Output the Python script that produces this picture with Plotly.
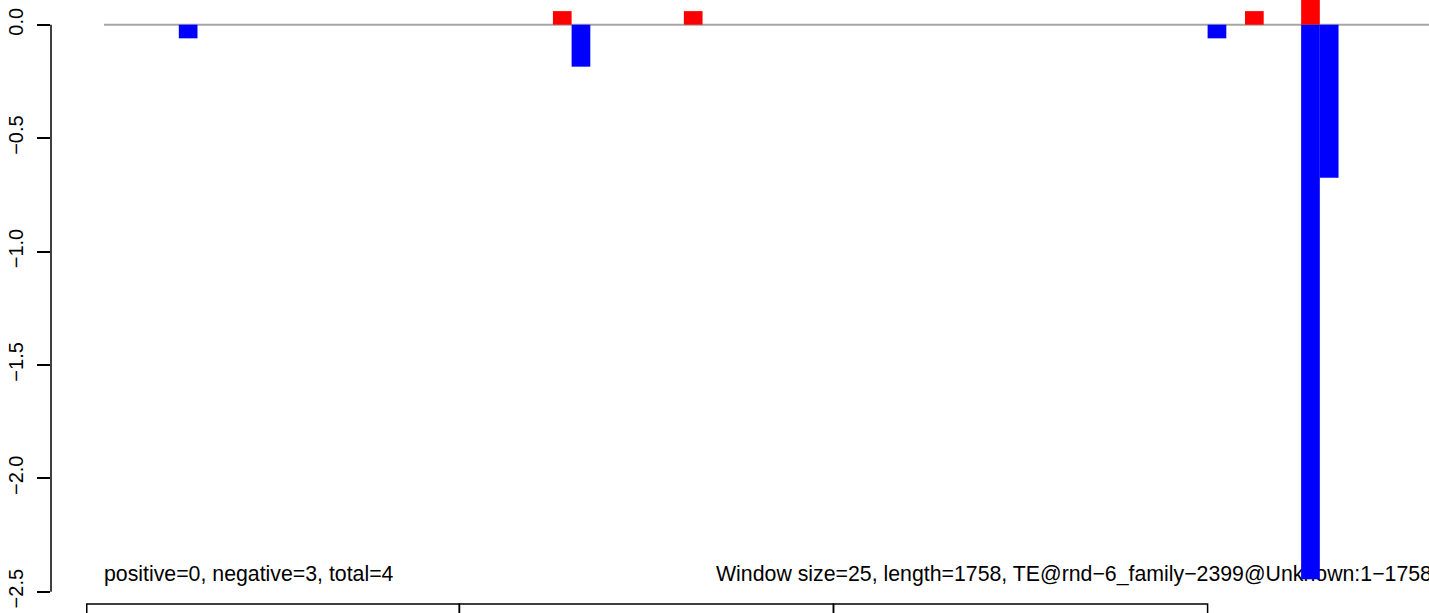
import plotly.graph_objects as go

# sliding-window scores (window start, score)
window_size = 25
pos_starts = [600, 775, 1525, 1600]
pos_scores = [0.06, 0.06, 0.06, 0.2]
neg_starts = [100, 625, 1475, 1600, 1625]
neg_scores = [-0.06, -0.185, -0.06, -2.445, -0.675]

y_ticks = [0.0, -0.5, -1.0, -1.5, -2.0, -2.5]
y_ticktext = ["0.0", "\u22120.5", "\u22121.0", "\u22121.5", "\u22122.0", "\u22122.5"]

# annotation boxes along the sequence
box_edges = [-23, 475, 975, 1475]

left_label = "positive=0, negative=3, total=4"
right_label = "Window size=25, length=1758, TE@rnd\u22126_family\u22122399@Unknown:1\u22121758"

FONT = "Liberation Sans, Arial, sans-serif"
x_range = [-70.8, 1770.9]
y_range = [-2.594, 0.109]

fig = go.Figure()

# text first, so the bars (on the overlaid axes) paint over it
fig.add_trace(
    go.Scatter(
        x=[0, 818],
        y=[-2.43, -2.43],
        mode="text",
        text=[left_label, right_label],
        textposition="middle right",
        textfont={"size": 21.3, "color": "black", "family": FONT},
        cliponaxis=False,
        hoverinfo="skip",
        showlegend=False,
    )
)

fig.add_trace(
    go.Bar(
        x=[s + window_size / 2 for s in pos_starts],
        y=pos_scores,
        width=window_size,
        marker={"color": "#FF0000", "line": {"width": 0}},
        xaxis="x2",
        yaxis="y2",
        showlegend=False,
    )
)
fig.add_trace(
    go.Bar(
        x=[s + window_size / 2 for s in neg_starts],
        y=neg_scores,
        width=window_size,
        marker={"color": "#0000FF", "line": {"width": 0}},
        xaxis="x2",
        yaxis="y2",
        showlegend=False,
    )
)

# zero line
fig.add_shape(
    type="line", xref="x", yref="y", x0=0, x1=2000, y0=0, y1=0,
    line={"color": "#A6A6A6", "width": 2}, layer="below",
)
# y axis line, only across the tick span
fig.add_shape(
    type="line", xref="paper", yref="y", x0=0, x1=0,
    y0=y_ticks[-1], y1=y_ticks[0], line={"color": "black", "width": 1.5},
)
for a, b in zip(box_edges[:-1], box_edges[1:]):
    fig.add_shape(
        type="rect", xref="x", yref="y", x0=a, x1=b, y0=-2.554, y1=-2.9,
        line={"color": "black", "width": 1.5}, fillcolor="rgba(0,0,0,0)",
    )

fig.update_layout(
    width=1429,
    height=613,
    margin={"l": 51, "r": 0, "t": 0, "b": 0},
    paper_bgcolor="white",
    plot_bgcolor="white",
    barmode="overlay",
    xaxis={"range": x_range, "visible": False},
    xaxis2={"range": x_range, "visible": False, "overlaying": "x"},
    yaxis={
        "range": y_range,
        "tickvals": y_ticks,
        "ticktext": y_ticktext,
        "ticks": "outside",
        "ticklen": 13,
        "tickwidth": 1.5,
        "tickcolor": "black",
        "tickangle": -90,
        "ticklabelstandoff": 6,
        "tickfont": {"size": 20, "color": "black", "family": FONT},
        "showline": False,
        "showgrid": False,
        "zeroline": False,
    },
    yaxis2={"range": y_range, "visible": False, "overlaying": "y"},
)

# drop the page's default body margin so the figure sits at the window corner
fig.write_html(
    "out.html",
    config={"displayModeBar": False},
    post_script="document.body.style.margin = '0';",
)
